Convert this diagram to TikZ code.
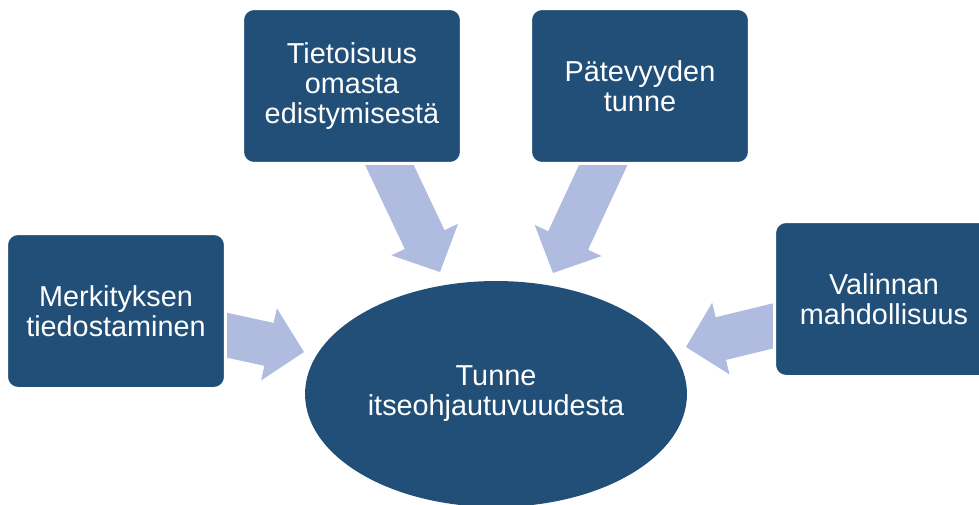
\documentclass[tikz,border=0pt]{standalone}
\usepackage{fontspec}
\setmainfont{Liberation Sans}
\usepackage{tikz}
\usetikzlibrary{arrows.meta,positioning,shapes,calc,backgrounds}
\definecolor{boxblue}{HTML}{214F78}
\definecolor{arrowblue}{HTML}{AFBCDF}
\tikzset{
  topicbox/.style={draw=white,fill=boxblue,line width=1.7pt,
                   rounded corners=6.5pt,minimum width=4.38cm,minimum height=3.10cm,
                   align=center,text=white,inner sep=4pt,
                   font=\fontsize{16.4}{17}\selectfont},
  centreoval/.style={ellipse,fill=boxblue,minimum width=7.64cm,minimum height=4.52cm,
                     inner sep=0pt,align=center,text=white,
                     font=\fontsize{16.4}{17}\selectfont},
  blockarrow/.style={fill=arrowblue,draw=none}
}
% wide arrow from #1 to the tip #2
\newcommand{\blockarr}[2]{%
  \fill[blockarrow] let \p1=(#1), \p2=(#2), \n1={atan2(\y2-\y1,\x2-\x1)} in
    ($(\p1)+(\n1+90:12.5pt)$)
    -- ($(\p2)+(\n1+180:20.4pt)+(\n1+90:12.5pt)$)
    -- ($(\p2)+(\n1+180:20.4pt)+(\n1+90:21pt)$)
    -- (\p2)
    -- ($(\p2)+(\n1+180:20.4pt)+(\n1-90:21pt)$)
    -- ($(\p2)+(\n1+180:20.4pt)+(\n1-90:12.5pt)$)
    -- ($(\p1)+(\n1-90:12.5pt)$) -- cycle;}

\begin{document}
\begin{tikzpicture}[x=0.02cm,y=-0.02cm]
  \useasboundingbox (0,0) rectangle (979,504);

  % centre oval
  \node[centreoval] (tunne) at (496,394) {Tunne\\itseohjautuvuudesta};

  % four boxes round it
  \node[topicbox] (tie) at (352,86) {Tietoisuus\\omasta\\edistymisestä};
  \node[topicbox] (pat) at (640,86) {Pätevyyden\\tunne};
  \node[topicbox] (mer) at (116,311) {Merkityksen\\tiedostaminen};
  \node[topicbox] (val) at (884,299) {Valinnan\\mahdollisuus};

  % arrow tips next to the oval
  \coordinate (tipmer) at (304,352);
  \coordinate (tiptie) at (440,272);
  \coordinate (tippat) at (553,273);
  \coordinate (tipval) at (686,347);

  \begin{scope}[on background layer]
    \blockarr{mer.center}{tipmer}
    \blockarr{tie.center}{tiptie}
    \blockarr{pat.center}{tippat}
    \blockarr{val.center}{tipval}
  \end{scope}
\end{tikzpicture}
\end{document}
